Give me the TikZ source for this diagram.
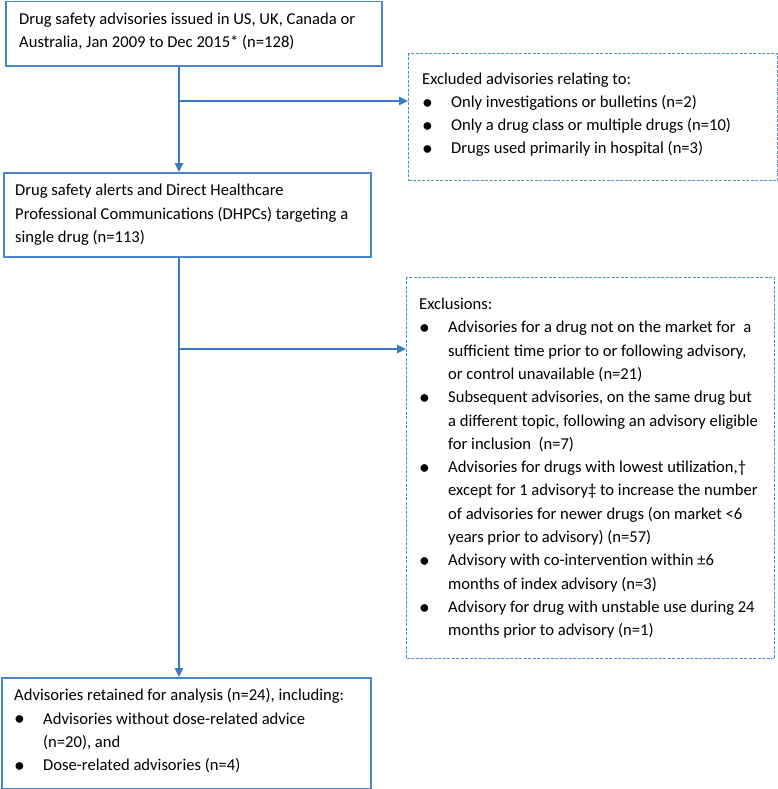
\documentclass[tikz,border=0pt]{standalone}
\usepackage{fontspec}
\setmainfont{Carlito}
\usetikzlibrary{arrows.meta}
\definecolor{boxblue}{RGB}{74,134,197}
\definecolor{dashblue}{RGB}{80,145,210}
\definecolor{arrblue}{RGB}{58,122,194}
\newcommand{\bul}{\makebox[29bp][l]{\raisebox{-1.8bp}{\scalebox{1.3}{•}}}}
\newcommand{\ind}{\hspace*{29bp}}
\begin{document}
\begin{tikzpicture}[x=1bp,y=-1bp,
  box/.style={draw=boxblue, line width=1.5bp, rectangle, inner sep=0pt, anchor=north west},
  dbox/.style={box, draw=dashblue, line width=1.4bp, dash pattern=on 3bp off 1.5bp},
  txt/.style={align=left, inner sep=0pt, font=\fontsize{16.6bp}{23.3bp}\selectfont, anchor=west},
  arr/.style={draw=arrblue, line width=1.5bp, -{Triangle[length=9bp,width=8.5bp]}}]
\useasboundingbox (0,0) rectangle (778,789);

\node[box, minimum width=376bp, minimum height=64bp] (b1) at (5,1) {};
\node[dbox, minimum width=369bp, minimum height=127bp] (ex1) at (408,53) {};
\node[box, minimum width=367bp, minimum height=84bp] (b2) at (3,172) {};
\node[dbox, minimum width=368bp, minimum height=381bp] (ex2) at (406,277) {};
\node[box, minimum width=369bp, minimum height=111bp] (b3) at (1,677) {};

\node[txt, yshift=2.5bp] (t1) at ([xshift=14bp]b1.west)
  {Drug safety advisories issued in US, UK, Canada or\\Australia, Jan 2009 to Dec 2015* (n=128)};
\node[txt, yshift=2.5bp] (t2) at ([xshift=14bp]ex1.west)
  {Excluded advisories relating to:\\
   \bul Only investigations or bulletins (n=2)\\
   \bul Only a drug class or multiple drugs (n=10)\\
   \bul Drugs used primarily in hospital (n=3)};
\node[txt] (t3) at ([xshift=12bp]b2.west)
  {Drug safety alerts and Direct Healthcare\\Professional Communications (DHPCs) targeting a\\single drug (n=113)};
\node[txt] (t4) at ([xshift=13bp]ex2.west)
  {Exclusions:\\
   \bul Advisories for a drug not on the market for\ \ a\\
   \ind sufficient time prior to or following advisory,\\
   \ind or control unavailable (n=21)\\
   \bul Subsequent advisories, on the same drug but\\
   \ind a different topic, following an advisory eligible\\
   \ind for inclusion\ \ (n=7)\\
   \bul Advisories for drugs with lowest utilization,†\\
   \ind except for 1 advisory‡ to increase the number\\
   \ind of advisories for newer drugs (on market <6\\
   \ind years prior to advisory) (n=57)\\
   \bul Advisory with co-intervention within ±6\\
   \ind months of index advisory (n=3)\\
   \bul Advisory for drug with unstable use during 24\\
   \ind months prior to advisory (n=1)};
\node[txt, yshift=2.5bp] (t5) at ([xshift=13bp]b3.west)
  {Advisories retained for analysis (n=24), including:\\
   \bul Advisories without dose-related advice\\
   \ind (n=20), and\\
   \bul Dose-related advisories (n=4)};

\coordinate (sp) at (179,0);
\coordinate (j1) at (179,101);
\coordinate (j2) at (179,349);
\draw[arr] (b1.south -| sp) -- (b2.north -| sp);
\draw[arr] (j1) -- (j1 -| ex1.west);
\draw[arr] (b2.south -| sp) -- (b3.north -| sp);
\draw[arr] (j2) -- (j2 -| ex2.west);
\end{tikzpicture}
\end{document}
